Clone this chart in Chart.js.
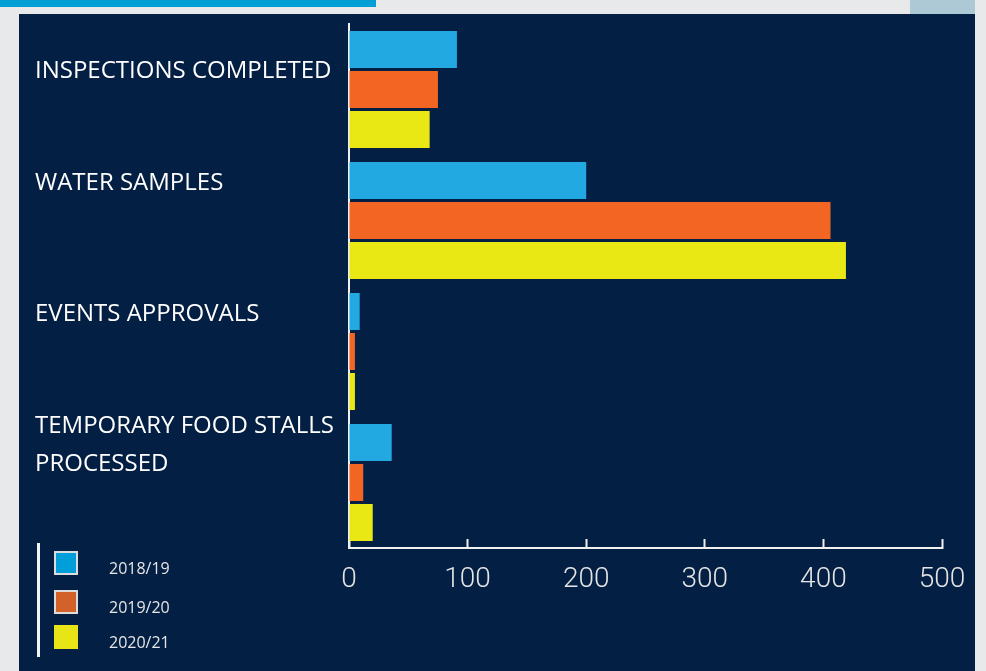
<!DOCTYPE html>
<html>
<head>
<meta charset="utf-8">
<script src="https://cdn.jsdelivr.net/npm/chart.js@4.4.1/dist/chart.umd.min.js"></script>
<style>
  html, body { margin: 0; padding: 0; }
  body { width: 986px; height: 671px; background: #e8e9eb; position: relative; overflow: hidden; }
  .strip { position: absolute; left: 0; top: 0; width: 376px; height: 7px; background: #00a0d7; }
  .corner { position: absolute; left: 910px; top: 0; width: 65px; height: 14px; background: #adc9d5; }
  .panel { position: absolute; left: 19px; top: 14px; width: 956px; height: 657px; background: #031f43; }
  #chart { position: absolute; left: 0; top: 0; }
  .legend { position: absolute; left: 18px; top: 529px; width: 200px; height: 114px; border-left: 3px solid #f2f2f2; }
  .legend .item { position: absolute; left: 14px; height: 24px; }
  .legend .box { position: absolute; left: 0; top: 0; width: 20px; height: 20px; border: 2px solid #dcdcdc; }
  .legend .box.plain { border-color: transparent; }
  .legend .txt { position: absolute; left: 55px; top: 6px; color: #e6e6e6; font: 16px "Open Sans", sans-serif; white-space: nowrap; }
</style>
</head>
<body>
<div class="strip"></div>
<div class="corner"></div>
<div class="panel">
  <canvas id="chart" width="956" height="657"></canvas>
  <div class="legend" id="legend"></div>
</div>
<script>
const categories = [
  ['', 'INSPECTIONS COMPLETED'],
  'WATER SAMPLES',
  'EVENTS APPROVALS',
  ['TEMPORARY FOOD STALLS', 'PROCESSED']
];
const seriesNames = ['2018/19', '2019/20', '2020/21'];
const values2018 = [91, 200, 9, 36];
const values2019 = [75, 406, 5, 12];
const values2020 = [68, 419, 5, 20];
const barColors = ['#23a9e1', '#f26522', '#e9e815'];
const legendColors = ['#009fda', '#d2622a', '#e8e517'];
const xTicks = [0, 100, 200, 300, 400, 500];

const ctx = document.getElementById('chart').getContext('2d');

const seriesValues = [values2018, values2019, values2020];

const chart = new Chart(ctx, {
  type: 'bar',
  data: {
    labels: categories,
    datasets: seriesNames.map((name, i) => ({
      label: name,
      data: seriesValues[i],
      backgroundColor: barColors[i],
      borderWidth: 0,
      categoryPercentage: 0.916,
      barPercentage: 0.925
    }))
  },
  options: {
    indexAxis: 'y',
    responsive: false,
    animation: false,
    layout: { padding: { left: 16, top: 10, right: 33, bottom: 0 } },
    scales: {
      x: {
        min: 0,
        max: 500,
        afterBuildTicks: scale => {
          scale.ticks = xTicks.map(v => ({ value: v }));
        },
        afterFit: scale => {
          // fixed height, no extra side padding from the end labels
          scale.height = 123;
          scale.paddingLeft = 0;
          scale.paddingRight = 0;
        },
        border: { display: true, color: '#f0f0f0', width: 2 },
        grid: {
          drawOnChartArea: false,
          drawTicks: true,
          tickLength: -9,
          tickWidth: 2,
          color: '#f0f0f0'
        },
        ticks: {
          color: '#e4e4e4',
          padding: 24,
          maxRotation: 0,
          autoSkip: false,
          font: { family: 'Roboto', size: 28, weight: '300' }
        }
      },
      y: {
        afterFit: scale => {
          scale.width = 314;
          scale.paddingTop = 0;
          scale.paddingBottom = 0;
        },
        border: { display: true, color: '#f0f0f0', width: 2 },
        grid: { display: false, drawTicks: false },
        ticks: {
          color: '#ffffff',
          crossAlign: 'far',
          labelOffset: -37,
          padding: 0,
          autoSkip: false,
          font: { family: 'Open Sans', size: 24, lineHeight: 1.58 }
        }
      }
    },
    plugins: {
      legend: { display: false },
      tooltip: { enabled: false }
    }
  }
});

const legendEl = document.getElementById('legend');
const legendTops = [8, 47, 82];
seriesNames.forEach((name, i) => {
  const item = document.createElement('div');
  item.className = 'item';
  item.style.top = legendTops[i] + 'px';
  const box = document.createElement('div');
  box.className = 'box' + (i === 2 ? ' plain' : '');
  box.style.background = legendColors[i];
  const txt = document.createElement('div');
  txt.className = 'txt';
  txt.textContent = name;
  item.appendChild(box);
  item.appendChild(txt);
  legendEl.appendChild(item);
});
</script>
</body>
</html>
